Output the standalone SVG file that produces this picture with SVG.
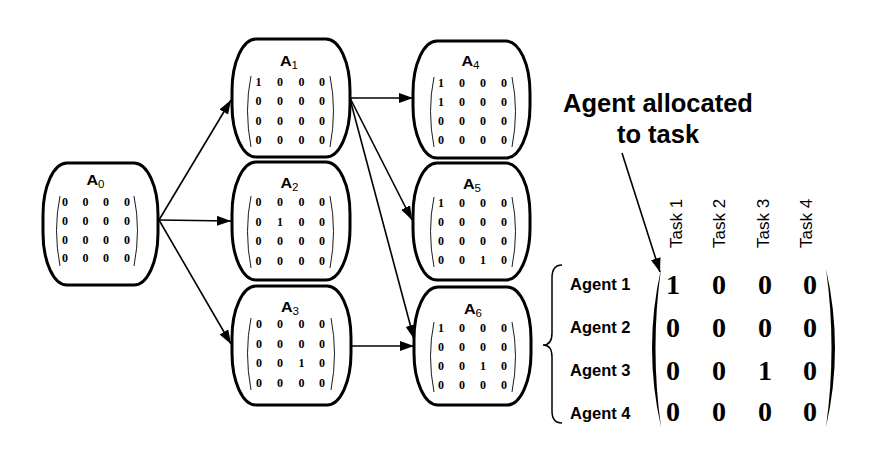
<svg xmlns="http://www.w3.org/2000/svg" width="880" height="474" viewBox="0 0 880 474">
<defs>
<style>
.node{fill:#fff;stroke:#000;stroke-width:3}
.lbl{font-family:"Liberation Sans",Arial,sans-serif;font-weight:bold;font-size:14px;text-anchor:middle}
.sub{font-size:10px;font-weight:normal}
.d{font-family:"Liberation Serif","Times New Roman",serif;font-weight:bold;font-size:12px;text-anchor:middle}
.p{fill:none;stroke:#000;stroke-width:0.9}
.c{fill:none;stroke:#000;stroke-width:1.6}
.big{font-family:"Liberation Serif","Times New Roman",serif;font-weight:bold;font-size:28px;text-anchor:middle}
.ag{font-family:"Liberation Sans",Arial,sans-serif;font-weight:bold;font-size:16.5px}
.tk{font-family:"Liberation Sans",Arial,sans-serif;font-size:17px}
.hd{font-family:"Liberation Sans",Arial,sans-serif;font-weight:bold;font-size:25.5px;text-anchor:middle}
</style>
<marker id="ah" markerUnits="userSpaceOnUse" markerWidth="15" markerHeight="11" refX="14" refY="5" orient="auto">
<path d="M0,0 L14,5 L0,10 z" fill="#000"/>
</marker>
</defs>
<rect width="880" height="474" fill="#fff"/>

<g id="connectors">
<line class="c" x1="159" y1="220" x2="231" y2="100" marker-end="url(#ah)"/>
<line class="c" x1="159" y1="220" x2="231" y2="221" marker-end="url(#ah)"/>
<line class="c" x1="159" y1="220" x2="231" y2="344" marker-end="url(#ah)"/>
<line class="c" x1="350" y1="98" x2="413" y2="98" marker-end="url(#ah)"/>
<line class="c" x1="350" y1="98" x2="412" y2="220" marker-end="url(#ah)"/>
<line class="c" x1="350" y1="99" x2="414" y2="339" marker-end="url(#ah)"/>
<line class="c" x1="352" y1="346" x2="414" y2="346" marker-end="url(#ah)"/>
<line class="c" x1="622" y1="153" x2="660" y2="272" marker-end="url(#ah)"/>
</g>

<g id="A0">
<path class="node" d="M67,163 H134 A24,52 0 0 1 158,215 V233 A24,52 0 0 1 134,285 H67 A24,52 0 0 1 43,233 V215 A24,52 0 0 1 67,163 Z"/>
<text class="lbl" transform="translate(95.5,185) scale(1.15,1)">A<tspan class="sub" dy="3">0</tspan></text>
<path class="p" d="M60,196 Q53,230 60,266"/><path class="p" d="M134,196 Q141,230 134,266"/>
<g class="d">
<text x="65" y="206">0</text><text x="85.5" y="206">0</text><text x="106" y="206">0</text><text x="127" y="206">0</text>
<text x="65" y="224.8">0</text><text x="85.5" y="224.8">0</text><text x="106" y="224.8">0</text><text x="127" y="224.8">0</text>
<text x="65" y="243.6">0</text><text x="85.5" y="243.6">0</text><text x="106" y="243.6">0</text><text x="127" y="243.6">0</text>
<text x="65" y="262.4">0</text><text x="85.5" y="262.4">0</text><text x="106" y="262.4">0</text><text x="127" y="262.4">0</text>
</g>
</g>

<g id="A1">
<path class="node" d="M256,39 H326 A24,52 0 0 1 350,91 V105 A24,52 0 0 1 326,157 H256 A24,52 0 0 1 232,105 V91 A24,52 0 0 1 256,39 Z"/>
<text class="lbl" transform="translate(289,66) scale(1.15,1)">A<tspan class="sub" dy="3">1</tspan></text>
<path class="p" d="M251,76 Q244,110 251,147"/><path class="p" d="M330,76 Q337,110 330,147"/>
<g class="d">
<text x="258.5" y="86">1</text><text x="280" y="86">0</text><text x="301.5" y="86">0</text><text x="322" y="86">0</text>
<text x="258.5" y="105.3">0</text><text x="280" y="105.3">0</text><text x="301.5" y="105.3">0</text><text x="322" y="105.3">0</text>
<text x="258.5" y="124.6">0</text><text x="280" y="124.6">0</text><text x="301.5" y="124.6">0</text><text x="322" y="124.6">0</text>
<text x="258.5" y="143.9">0</text><text x="280" y="143.9">0</text><text x="301.5" y="143.9">0</text><text x="322" y="143.9">0</text>
</g>
</g>

<g id="A2">
<path class="node" d="M256,162 H326 A24,52 0 0 1 350,214 V228 A24,52 0 0 1 326,280 H256 A24,52 0 0 1 232,228 V214 A24,52 0 0 1 256,162 Z"/>
<text class="lbl" transform="translate(289.5,188) scale(1.15,1)">A<tspan class="sub" dy="3">2</tspan></text>
<path class="p" d="M251,196 Q244,231 251,268"/><path class="p" d="M330,196 Q337,231 330,268"/>
<g class="d">
<text x="258.5" y="206">0</text><text x="280" y="206">0</text><text x="301.5" y="206">0</text><text x="322" y="206">0</text>
<text x="258.5" y="225.5">0</text><text x="280" y="225.5">1</text><text x="301.5" y="225.5">0</text><text x="322" y="225.5">0</text>
<text x="258.5" y="245">0</text><text x="280" y="245">0</text><text x="301.5" y="245">0</text><text x="322" y="245">0</text>
<text x="258.5" y="264.5">0</text><text x="280" y="264.5">0</text><text x="301.5" y="264.5">0</text><text x="322" y="264.5">0</text>
</g>
</g>

<g id="A3">
<path class="node" d="M256,286 H327 A24,52 0 0 1 351,338 V353 A24,52 0 0 1 327,405 H256 A24,52 0 0 1 232,353 V338 A24,52 0 0 1 256,286 Z"/>
<text class="lbl" transform="translate(290,312) scale(1.15,1)">A<tspan class="sub" dy="3">3</tspan></text>
<path class="p" d="M251,318 Q244,353 251,390"/><path class="p" d="M331,318 Q338,353 331,390"/>
<g class="d">
<text x="259" y="328">0</text><text x="280" y="328">0</text><text x="301.5" y="328">0</text><text x="322" y="328">0</text>
<text x="259" y="347.5">0</text><text x="280" y="347.5">0</text><text x="301.5" y="347.5">0</text><text x="322" y="347.5">0</text>
<text x="259" y="367">0</text><text x="280" y="367">0</text><text x="301.5" y="367">1</text><text x="322" y="367">0</text>
<text x="259" y="386.5">0</text><text x="280" y="386.5">0</text><text x="301.5" y="386.5">0</text><text x="322" y="386.5">0</text>
</g>
</g>

<g id="A4">
<path class="node" d="M437,41 H506 A24,52 0 0 1 530,93 V106 A24,52 0 0 1 506,158 H437 A24,52 0 0 1 413,106 V93 A24,52 0 0 1 437,41 Z"/>
<text class="lbl" transform="translate(470.5,66) scale(1.15,1)">A<tspan class="sub" dy="3">4</tspan></text>
<path class="p" d="M434,77 Q427,111 434,147"/><path class="p" d="M512,77 Q519,111 512,147"/>
<g class="d">
<text x="441" y="87">1</text><text x="462" y="87">0</text><text x="483" y="87">0</text><text x="504" y="87">0</text>
<text x="441" y="106">1</text><text x="462" y="106">0</text><text x="483" y="106">0</text><text x="504" y="106">0</text>
<text x="441" y="125">0</text><text x="462" y="125">0</text><text x="483" y="125">0</text><text x="504" y="125">0</text>
<text x="441" y="144">0</text><text x="462" y="144">0</text><text x="483" y="144">0</text><text x="504" y="144">0</text>
</g>
</g>

<g id="A5">
<path class="node" d="M437,163 H506 A24,52 0 0 1 530,215 V228 A24,52 0 0 1 506,280 H437 A24,52 0 0 1 413,228 V215 A24,52 0 0 1 437,163 Z"/>
<text class="lbl" transform="translate(472,189) scale(1.15,1)">A<tspan class="sub" dy="3">5</tspan></text>
<path class="p" d="M434,197 Q427,231 434,267"/><path class="p" d="M512,197 Q519,231 512,267"/>
<g class="d">
<text x="441" y="207">1</text><text x="462" y="207">0</text><text x="483" y="207">0</text><text x="504" y="207">0</text>
<text x="441" y="226">0</text><text x="462" y="226">0</text><text x="483" y="226">0</text><text x="504" y="226">0</text>
<text x="441" y="245">0</text><text x="462" y="245">0</text><text x="483" y="245">0</text><text x="504" y="245">0</text>
<text x="441" y="264">0</text><text x="462" y="264">0</text><text x="483" y="264">1</text><text x="504" y="264">0</text>
</g>
</g>

<g id="A6">
<path class="node" d="M438,287 H507 A24,52 0 0 1 531,339 V353 A24,52 0 0 1 507,405 H438 A24,52 0 0 1 414,353 V339 A24,52 0 0 1 438,287 Z"/>
<text class="lbl" transform="translate(473,314) scale(1.15,1)">A<tspan class="sub" dy="3">6</tspan></text>
<path class="p" d="M434,322 Q427,356 434,392"/><path class="p" d="M512,322 Q519,356 512,392"/>
<g class="d">
<text x="441" y="332">1</text><text x="462" y="332">0</text><text x="483" y="332">0</text><text x="504" y="332">0</text>
<text x="441" y="351">0</text><text x="462" y="351">0</text><text x="483" y="351">0</text><text x="504" y="351">0</text>
<text x="441" y="370">0</text><text x="462" y="370">0</text><text x="483" y="370">1</text><text x="504" y="370">0</text>
<text x="441" y="389">0</text><text x="462" y="389">0</text><text x="483" y="389">0</text><text x="504" y="389">0</text>
</g>
</g>

<g id="legend">
<text class="hd" x="658" y="112">Agent allocated</text>
<text class="hd" x="658" y="143">to task</text>
<text class="tk" transform="translate(681.5,248) rotate(-90)">Task 1</text>
<text class="tk" transform="translate(725,248) rotate(-90)">Task 2</text>
<text class="tk" transform="translate(768.5,248) rotate(-90)">Task 3</text>
<text class="tk" transform="translate(812,248) rotate(-90)">Task 4</text>
<path d="M562,265 Q552,265 552,278 L552,333 Q552,345 543,345 Q552,345 552,357 L552,411 Q552,423 562,423" fill="none" stroke="#000" stroke-width="1.5"/>
<text class="ag" x="570" y="290">Agent 1</text>
<text class="ag" x="570" y="333">Agent 2</text>
<text class="ag" x="570" y="376">Agent 3</text>
<text class="ag" x="570" y="418.5">Agent 4</text>
<path d="M661,269 Q643,348 661,427 Q650,348 661,269 Z" fill="#000"/>
<path d="M826,269 Q844,348 826,427 Q837,348 826,269 Z" fill="#000"/>
<g class="big">
<text x="673" y="293.5">1</text><text x="719" y="293.5">0</text><text x="765" y="293.5">0</text><text x="810" y="293.5">0</text>
<text x="673" y="336.5">0</text><text x="719" y="336.5">0</text><text x="765" y="336.5">0</text><text x="810" y="336.5">0</text>
<text x="673" y="379.5">0</text><text x="719" y="379.5">0</text><text x="765" y="379.5">1</text><text x="810" y="379.5">0</text>
<text x="673" y="421">0</text><text x="719" y="421">0</text><text x="765" y="421">0</text><text x="810" y="421">0</text>
</g>
</g>
</svg>
